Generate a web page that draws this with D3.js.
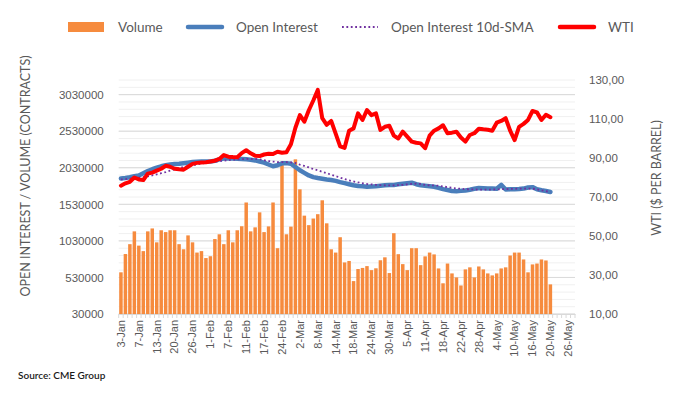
<!DOCTYPE html>
<html>
<head>
<meta charset="utf-8">
<script src="https://cdn.jsdelivr.net/npm/d3@7"></script>
<style>
  body { margin: 0; background: #fff; }
  svg { font-family: Lato, "Open Sans", sans-serif; }
</style>
</head>
<body>
<svg></svg>
<script>
// categories (trading days, Jan - May)
const dates = [
  "3-Jan","4-Jan","5-Jan","6-Jan","7-Jan","10-Jan","11-Jan","12-Jan","13-Jan","14-Jan",
  "18-Jan","19-Jan","20-Jan","21-Jan","24-Jan","25-Jan","26-Jan","27-Jan","28-Jan","31-Jan",
  "1-Feb","2-Feb","3-Feb","4-Feb","7-Feb","8-Feb","9-Feb","10-Feb","11-Feb","14-Feb",
  "15-Feb","16-Feb","17-Feb","18-Feb","22-Feb","23-Feb","24-Feb","25-Feb","28-Feb",
  "1-Mar","2-Mar","3-Mar","4-Mar","7-Mar","8-Mar","9-Mar","10-Mar","11-Mar","14-Mar",
  "15-Mar","16-Mar","17-Mar","18-Mar","21-Mar","22-Mar","23-Mar","24-Mar","25-Mar","28-Mar",
  "29-Mar","30-Mar","31-Mar",
  "1-Apr","4-Apr","5-Apr","6-Apr","7-Apr","8-Apr","11-Apr","12-Apr","13-Apr","14-Apr",
  "18-Apr","19-Apr","20-Apr","21-Apr","22-Apr","25-Apr","26-Apr","27-Apr","28-Apr","29-Apr",
  "2-May","3-May","4-May","5-May","6-May","9-May","10-May","11-May","12-May","13-May",
  "16-May","17-May","18-May","19-May","20-May","23-May","24-May","25-May","26-May","27-May"
]

const volume = [
  600000,850000,985000,1160000,965000,890000,1160000,1200000,1010000,1175000,
  1150000,1175000,1175000,985000,915000,1105000,1010000,870000,890000,795000,
  820000,1055000,1120000,985000,1175000,1010000,1175000,1230000,1555000,1160000,
  1215000,1420000,1150000,1228000,1555000,930000,2085000,1120000,1225000,
  2145000,1735000,1375000,1245000,1335000,1395000,1585000,1270000,915000,870000,
  1080000,735000,755000,480000,645000,660000,685000,630000,655000,765000,
  805000,590000,1135000,
  848000,712000,630000,930000,930000,698000,818000,870000,845000,653000,
  450000,720000,585000,530000,420000,640000,668000,530000,680000,640000,
  585000,558000,585000,653000,668000,830000,870000,870000,776000,600000,
  708000,720000,776000,762000,435000
]

const openInterest = [
  1884000,1890000,1900000,1915000,1925000,1955000,1985000,2010000,2030000,2050000,
  2065000,2075000,2080000,2085000,2092000,2100000,2108000,2112000,2115000,2116000,
  2116000,2125000,2145000,2157000,2158000,2155000,2152000,2150000,2145000,2140000,
  2130000,2115000,2100000,2075000,2050000,2065000,2090000,2093000,2085000,
  2040000,1995000,1960000,1925000,1902000,1890000,1880000,1870000,1862000,1850000,
  1834000,1820000,1805000,1790000,1780000,1776000,1770000,1772000,1778000,1785000,
  1790000,1793000,1795000,
  1803000,1810000,1818000,1826000,1805000,1790000,1785000,1777000,1770000,1755000,
  1738000,1725000,1712000,1710000,1714000,1720000,1730000,1742000,1752000,1750000,
  1747000,1745000,1744000,1795000,1732000,1735000,1737000,1738000,1745000,1760000,
  1765000,1735000,1722000,1712000,1698000
]

const oiSma = [
  1870000,1875000,1880000,1888000,1895000,1903000,1912000,1925000,1940000,1955000,
  1970000,1990000,2008000,2025000,2040000,2052000,2062000,2075000,2087000,2097000,
  2105000,2112000,2120000,2127000,2133000,2139000,2143000,2147000,2150000,2152000,
  2150000,2145000,2133000,2122000,2115000,2108000,2106000,2106000,2104000,
  2095000,2072000,2055000,2035000,2012000,1995000,1975000,1955000,1935000,1915000,
  1895000,1875000,1857000,1843000,1830000,1818000,1808000,1802000,1797000,1793000,
  1790000,1789000,1789000,
  1792000,1797000,1803000,1810000,1812000,1808000,1795000,1790000,1788000,1785000,
  1775000,1765000,1755000,1748000,1742000,1737000,1735000,1733000,1731000,1730000,
  1731000,1732000,1734000,1736000,1738000,1740000,1742000,1744000,1745000,1745000,
  1744000,1735000,1722000,1710000,1698000
]

const wti = [
  75.8,77.0,77.8,80.0,79.0,78.7,82.0,82.5,83.5,84.5,
  86.0,85.5,84.5,84.2,84.0,85.5,87.0,87.5,87.7,87.8,
  88.2,88.6,89.5,91.5,90.7,90.5,90.4,92.5,94.0,92.4,
  91.2,91.0,91.8,92.2,92.0,93.2,92.7,93.0,97.0,
  105.5,112.0,108.6,114.5,119.5,124.9,110.4,107.0,109.0,102.5,
  96.0,95.2,104.0,105.2,112.9,109.5,114.6,112.0,112.9,104.4,
  106.0,106.5,101.5,
  100.0,103.5,101.0,98.4,97.8,97.5,95.0,101.5,104.0,105.2,
  106.8,102.7,103.0,103.5,100.5,98.4,101.8,102.7,105.0,104.7,
  104.5,104.0,108.1,109.0,110.4,104.0,99.2,106.0,107.5,109.5,
  114.1,113.4,109.5,112.2,110.9
]

const leftTicks = [30000, 530000, 1030000, 1530000, 2030000, 2530000, 3030000]
const rightTicks = [10, 30, 50, 70, 90, 110, 130]

const seriesNames = ["Volume", "Open Interest", "Open Interest 10d-SMA", "WTI"]

let width = 685
let height = 397
let plotLeft = 118.7, plotRight = 575, plotTop = 80, plotBottom = 314

let svg = d3.select('svg').attr('width', width).attr('height', height)

let xScale = d3.scaleBand().domain(d3.range(dates.length)).range([plotLeft, plotRight]).paddingInner(0.22).paddingOuter(0.11)
let step = (plotRight - plotLeft) / dates.length
let xCenter = i => plotLeft + step * (i + 0.5)
let yLeft = d3.scaleLinear().domain([30000, 3230000]).range([plotBottom, plotTop])
let yRight = d3.scaleLinear().domain([10, 130]).range([plotBottom, plotTop])

// gridlines
let minor = d3.range(30000, 3230001, 100000)
svg.append('g').selectAll('line').data(minor).enter().append('line')
  .attr('x1', plotLeft).attr('x2', plotRight)
  .attr('y1', d => yLeft(d)).attr('y2', d => yLeft(d))
  .attr('stroke', '#f0f0f0').attr('stroke-width', 1)
svg.append('g').selectAll('line').data(leftTicks).enter().append('line')
  .attr('x1', plotLeft).attr('x2', plotRight)
  .attr('y1', d => yLeft(d)).attr('y2', d => yLeft(d))
  .attr('stroke', '#d9d9d9').attr('stroke-width', 1)

// bars
svg.append('g').selectAll('rect').data(volume).enter().append('rect')
  .attr('x', (d, i) => xScale(i))
  .attr('width', xScale.bandwidth())
  .attr('y', d => yLeft(d))
  .attr('height', d => plotBottom - yLeft(d))
  .attr('fill', '#f68b3e')

// x axis
let xAxis = d3.axisBottom(xScale)
  .tickValues(d3.range(0, dates.length, 4))
  .tickFormat(i => dates[i])
  .tickSize(0)
let gx = svg.append('g').attr('transform', 'translate(0,' + plotBottom + ')').call(xAxis)
gx.select('.domain').attr('stroke', '#d9d9d9')
gx.selectAll('text')
  .attr('transform', 'translate(0,6) rotate(-90)')
  .attr('x', 0).attr('y', 0).attr('dy', '0.35em')
  .style('text-anchor', 'end')
  .attr('fill', '#595959').style('font-size', '11px')
svg.append('g').selectAll('line').data(d3.range(dates.length + 1)).enter().append('line')
  .attr('x1', i => plotLeft + i * step).attr('x2', i => plotLeft + i * step)
  .attr('y1', plotBottom).attr('y2', plotBottom + 4)
  .attr('stroke', '#d9d9d9')

// y axes
let gl = svg.append('g').attr('transform', 'translate(' + (plotLeft - 12) + ',0)')
  .call(d3.axisLeft(yLeft).tickValues(leftTicks).tickFormat(d3.format('d')).tickSize(0))
gl.select('.domain').remove()
gl.selectAll('text').attr('fill', '#595959').style('font-size', '11.5px')

let gr = svg.append('g').attr('transform', 'translate(' + (plotRight + 11) + ',0)')
  .call(d3.axisRight(yRight).tickValues(rightTicks).tickFormat(d => d3.format('.2f')(d).replace('.', ',')).tickSize(0))
gr.select('.domain').remove()
gr.selectAll('text').attr('fill', '#595959').style('font-size', '11.5px')

// lines
let lineLeft = d3.line().x((d, i) => xCenter(i)).y(d => yLeft(d))
let lineRight = d3.line().x((d, i) => xCenter(i)).y(d => yRight(d))

svg.append('path').datum(openInterest).attr('d', lineLeft)
  .attr('fill', 'none').attr('stroke', '#4a7ebb').attr('stroke-width', 4.5)
  .attr('stroke-linejoin', 'round').attr('stroke-linecap', 'round')
svg.append('path').datum(oiSma).attr('d', lineLeft)
  .attr('fill', 'none').attr('stroke', '#7030a0').attr('stroke-width', 1.8)
  .attr('stroke-dasharray', '1.8,2.6')
svg.append('path').datum(wti).attr('d', lineRight)
  .attr('fill', 'none').attr('stroke', '#ff0000').attr('stroke-width', 4)
  .attr('stroke-linejoin', 'round').attr('stroke-linecap', 'round')

// axis titles
svg.append('text').attr('transform', 'translate(30,176) rotate(-90)')
  .attr('text-anchor', 'middle').attr('fill', '#595959').style('font-size', '12.5px')
  .text('OPEN INTEREST / VOLUME (CONTRACTS)')
svg.append('text').attr('transform', 'translate(661,178) rotate(-90)')
  .attr('text-anchor', 'middle').attr('fill', '#595959').style('font-size', '12.5px')
  .text('WTI ($ PER BARREL)')

// legend
let legendY = 27
let lg = svg.append('g').style('font-size', '13.5px').attr('fill', '#595959')
lg.append('rect').attr('x', 68).attr('y', legendY - 5).attr('width', 36).attr('height', 10).attr('fill', '#f68b3e')
lg.append('text').attr('x', 118).attr('y', legendY).attr('dy', '0.35em').text(seriesNames[0])
lg.append('line').attr('x1', 188).attr('x2', 222).attr('y1', legendY).attr('y2', legendY)
  .attr('stroke', '#4a7ebb').attr('stroke-width', 4.5).attr('stroke-linecap', 'round')
lg.append('text').attr('x', 236).attr('y', legendY).attr('dy', '0.35em').text(seriesNames[1])
lg.append('line').attr('x1', 342).attr('x2', 378).attr('y1', legendY).attr('y2', legendY)
  .attr('stroke', '#7030a0').attr('stroke-width', 1.8).attr('stroke-dasharray', '1.8,2.6')
lg.append('text').attr('x', 391).attr('y', legendY).attr('dy', '0.35em').text(seriesNames[2])
lg.append('line').attr('x1', 560).attr('x2', 594).attr('y1', legendY).attr('y2', legendY)
  .attr('stroke', '#ff0000').attr('stroke-width', 4.5).attr('stroke-linecap', 'round')
lg.append('text').attr('x', 608).attr('y', legendY).attr('dy', '0.35em').text(seriesNames[3])

// source
svg.append('text').attr('x', 18).attr('y', 379)
  .attr('fill', '#1a1a1a').style('font-size', '10px').style('font-weight', 600)
  .text('Source: CME Group')
</script>
</body>
</html>
